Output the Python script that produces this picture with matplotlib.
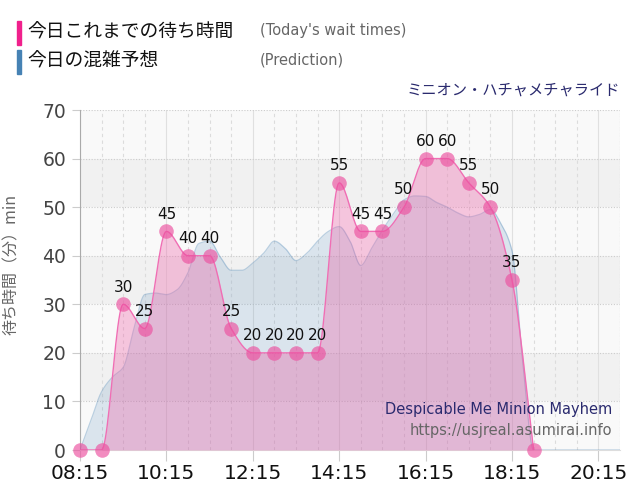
import numpy as np
import matplotlib.pyplot as plt

plt.rcParams['font.family'] = ['DejaVu Sans', 'Noto Sans CJK JP']

# today's measured wait times, every 30 min from 08:15
wait_start = 8 * 60 + 15
wait_vals = [0, 0, 30, 25, 45, 40, 40, 25, 20, 20, 20, 20,
             55, 45, 45, 50, 60, 60, 55, 50, 35, 0]

# predicted crowding, every 15 min from 08:15 to 20:45
pred_vals = [0, 6, 12, 15, 17, 25, 32, 32.3, 32, 33, 36.5, 42.5, 43, 39.7, 37, 37,
             38.5, 40.5, 43, 41.5, 39, 40.5, 43, 45, 46, 43, 38, 41.5, 45.3, 48.5,
             51.5, 52.3, 52.2, 51, 50, 48.8, 48, 48.5, 49.5, 46.5, 41, 18, 0,
             0, 0, 0, 0, 0, 0, 0, 0]

tick_labels = ['08:15', '10:15', '12:15', '14:15', '16:15', '18:15', '20:15']

wait_x = wait_start + 30 * np.arange(len(wait_vals))
pred_x = wait_start + 15 * np.arange(len(pred_vals))


def pchip(x, y, n=20):
    # monotone cubic (Fritsch-Carlson) for a smooth curve through the points
    x = np.asarray(x, float)
    y = np.asarray(y, float)
    h = np.diff(x)
    d = np.diff(y) / h
    m = np.zeros_like(y)
    m[0], m[-1] = d[0], d[-1]
    for i in range(1, len(y) - 1):
        if d[i - 1] * d[i] > 0:
            w1 = 2 * h[i] + h[i - 1]
            w2 = h[i] + 2 * h[i - 1]
            m[i] = (w1 + w2) / (w1 / d[i - 1] + w2 / d[i])
    xs, ys = [], []
    for i in range(len(h)):
        t = np.linspace(0, 1, n, endpoint=False)
        h00 = 2 * t**3 - 3 * t**2 + 1
        h10 = t**3 - 2 * t**2 + t
        h01 = -2 * t**3 + 3 * t**2
        h11 = t**3 - t**2
        xs.append(x[i] + t * h[i])
        ys.append(h00 * y[i] + h10 * h[i] * m[i] + h01 * y[i + 1] + h11 * h[i] * m[i + 1])
    xs.append([x[-1]])
    ys.append([y[-1]])
    return np.concatenate(xs), np.concatenate(ys)


fig = plt.figure(figsize=(6.4, 5), dpi=100)
ax = fig.add_axes([80 / 640, 50 / 500, 540 / 640, 340 / 500])

xmin, xmax = wait_start, 20 * 60 + 45
ax.set_xlim(xmin, xmax)
ax.set_ylim(0, 70)

for k in range(7):
    ax.axhspan(k * 10, k * 10 + 10, color='#f9f9f9' if k % 2 == 0 else '#f1f1f1', zorder=0, lw=0)

# grid
for xv in np.arange(xmin, xmax + 1, 30):
    if (xv - xmin) % 120 == 0:
        ax.axvline(xv, color='#e0e0e0', lw=0.8, zorder=1)
    else:
        ax.axvline(xv, color='#dcdcdc', lw=0.8, ls=(0, (3, 3)), zorder=1)
for yv in range(10, 71, 10):
    ax.axhline(yv, color='#cccccc', lw=0.8, ls=(0, (1, 1.5)), zorder=1)
ax.axvline(xmax, color='#cccccc', lw=0.8, ls=(0, (1, 1.5)), zorder=1)

# prediction
px, py = pchip(pred_x, pred_vals)
ax.fill_between(px, 0, py, color='steelblue', alpha=0.17, lw=0, zorder=2)
ax.plot(px, py, color='steelblue', alpha=0.35, lw=0.9, zorder=3)

# today's wait times
wx, wy = pchip(wait_x, wait_vals)
ax.fill_between(wx, 0, wy, color='#f064aa', alpha=0.35, lw=0, zorder=4)
ax.plot(wx, wy, color='#f06eb4', lw=1.0, zorder=5)
ax.plot(wait_x, wait_vals, 'o', color='#ec4f9f', alpha=0.65, ms=10.5, mew=0,
        zorder=6, clip_on=False)
for xv, yv in zip(wait_x, wait_vals):
    if yv > 0:
        ax.annotate(str(yv), (xv, yv), xytext=(0, 7), textcoords='offset points',
                    ha='center', va='bottom', fontsize=11, color='#111111', zorder=7)

# axes styling
for s in ['top', 'right']:
    ax.spines[s].set_visible(False)
ax.spines['left'].set_color('#aaaaaa')
ax.spines['bottom'].set_color('#dddddd')

ax.set_xticks(wait_start + 120 * np.arange(len(tick_labels)))
ax.set_xticklabels(tick_labels, fontsize=14.5, color='#111111')
ax.set_yticks(range(0, 71, 10))
ax.set_yticklabels([str(v) for v in range(0, 71, 10)], fontsize=13.5, color='#444444')
ax.tick_params(axis='x', length=8, color='#cccccc', pad=2)
ax.tick_params(axis='y', length=6, color='#cccccc', pad=4)
ax.set_ylabel('待ち時間（分）min', fontsize=11.5, color='#666666',
              family=['Noto Sans CJK JP', 'DejaVu Sans'])
ax.yaxis.set_label_coords(-0.112, 0.545)

ax.text(0.985, 0.118, 'Despicable Me Minion Mayhem', transform=ax.transAxes,
        ha='right', va='center', fontsize=10.5, color='#2a2a6e', zorder=8)
ax.text(0.985, 0.058, 'https://usjreal.asumirai.info', transform=ax.transAxes,
        ha='right', va='center', fontsize=10.5, color='#666666', zorder=8)

# header legend
fig.patches.append(plt.Rectangle((17 / 640, 1 - 45 / 500), 4 / 640, 24 / 500,
                                 transform=fig.transFigure, color='#f0208c'))
fig.patches.append(plt.Rectangle((17 / 640, 1 - 74 / 500), 4 / 640, 24 / 500,
                                 transform=fig.transFigure, color='#4682b4'))
fig.text(27 / 640, 1 - 32 / 500, '今日これまでの待ち時間', fontsize=13.5, color='#111111',
         va='center', family=['Noto Sans CJK JP'])
fig.text(27 / 640, 1 - 61 / 500, '今日の混雑予想', fontsize=13.5, color='#111111',
         va='center', family=['Noto Sans CJK JP'])
fig.text(260 / 640, 1 - 31 / 500, "(Today's wait times)", fontsize=10.5, color='#666666', va='center')
fig.text(260 / 640, 1 - 60 / 500, '(Prediction)', fontsize=10.5, color='#666666', va='center')
fig.text(620 / 640, 1 - 90 / 500, 'ミニオン・ハチャメチャライド', fontsize=11, color='#2a2a6e',
         ha='right', va='center', family=['Noto Sans CJK JP'])

fig.savefig('out.png', dpi=100)
